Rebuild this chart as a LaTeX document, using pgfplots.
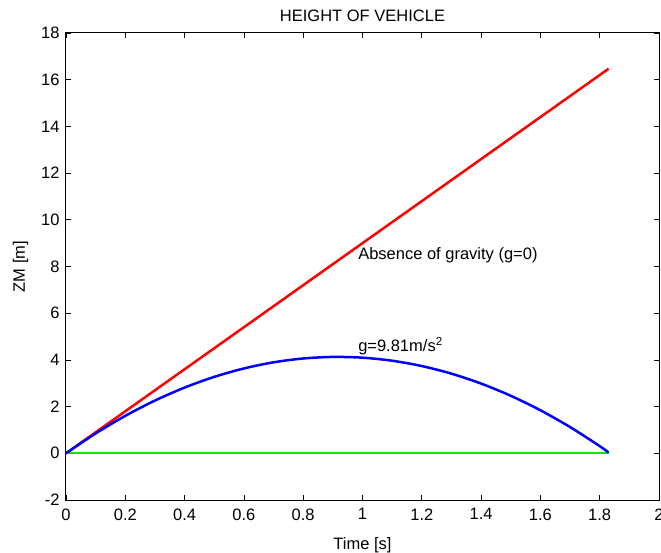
\documentclass[border=0pt]{standalone}
\usepackage{fontspec}
\setmainfont{Liberation Sans}
\usepackage{pgfplots}
\pgfplotsset{compat=1.18}
\definecolor{mgreen}{RGB}{0,235,0}

\begin{document}
\begin{tikzpicture}[font=\fontsize{16.5}{19}\selectfont]
% fix the page to the reference proportions (1pt ~ 1px)
\path[use as bounding box] (-66pt,-52pt) rectangle (595pt,500pt);
\begin{axis}[
    at={(0,0)}, anchor=south west,
    scale only axis,
    width=593pt, height=467pt,
    xmin=0, xmax=2, ymin=-2, ymax=18,
    xtick={0,0.2,...,2.01}, ytick={-2,0,...,18},
    tick align=inside,
    major tick length=5pt,
    axis line style={line width=1pt},
    every tick/.style={black, line width=0.8pt},
    /pgf/number format/assume math mode=true,
    xticklabel style={yshift=-5pt, /pgf/number format/.cd, fixed, precision=1},
    yticklabel style={xshift=-3pt, /pgf/number format/.cd, fixed, precision=0},
    title={HEIGHT OF VEHICLE},
    title style={yshift=2pt},
    xlabel={Time [s]},
    ylabel={ZM [m]},
    xlabel style={yshift=-10pt},
    ylabel style={yshift=6pt},
    clip=false,
]
% ground
\addplot[mgreen, line width=2.2pt] coordinates {(0,0) (0.9,0) (1.83,0)};
% g = 0
\addplot[red, line width=2.5pt] coordinates {
    (0,0) (0.5,4.50) (1.0,9.00) (1.5,13.50) (1.83,16.47)
};
% g = 9.81
\addplot[blue, line width=2.5pt, smooth] coordinates {
    (0,0) (0.1,0.851) (0.2,1.604) (0.3,2.259) (0.4,2.815)
    (0.5,3.274) (0.6,3.634) (0.7,3.897) (0.8,4.061) (0.9,4.127)
    (1.0,4.095) (1.1,3.965) (1.2,3.737) (1.3,3.411) (1.4,2.986)
    (1.5,2.464) (1.6,1.843) (1.7,1.125) (1.8,0.308) (1.83,0.03)
};

\node[anchor=west, inner sep=0pt] at (axis cs:0.985,8.5) {Absence of gravity (g=0)};
\node[anchor=west, inner sep=0pt] at (axis cs:0.985,4.6) {g=9.81m/s\textsuperscript{2}};
\end{axis}
\end{tikzpicture}
\end{document}
